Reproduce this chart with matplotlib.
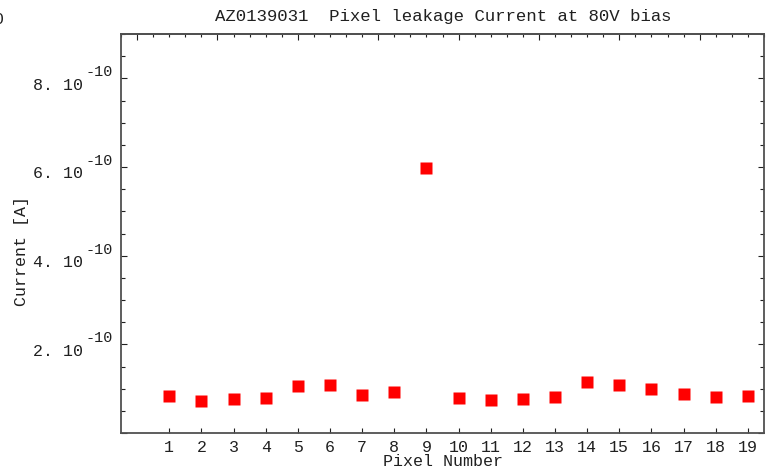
import numpy as np
import matplotlib
matplotlib.use("Agg")
import matplotlib.pyplot as plt
from matplotlib.ticker import MultipleLocator, FixedLocator, NullFormatter
from matplotlib.transforms import offset_copy

plt.rcParams['font.family'] = ['Liberation Mono', 'DejaVu Sans Mono']

# data
pixel = list(range(1, 20))
current = [0.83e-10, 0.72e-10, 0.76e-10, 0.79e-10, 1.06e-10, 1.08e-10, 0.85e-10,
           0.92e-10, 5.98e-10, 0.79e-10, 0.74e-10, 0.76e-10, 0.81e-10, 1.15e-10,
           1.08e-10, 0.99e-10, 0.88e-10, 0.81e-10, 0.83e-10]
ytick_vals = [2e-10, 4e-10, 6e-10, 8e-10]
ytick_mant = ["2.", "4.", "6.", "8."]
title = "AZ0139031  Pixel leakage Current at 80V bias"

fig = plt.figure(figsize=(7.66, 4.68), dpi=100)
ax = fig.add_axes([121/766, 1-433/468, 643/766, 399/468])

ax.plot(pixel, current, 's', color='#ff0000', markersize=8.8, mec='none', zorder=3)

ax.set_xlim(-0.5, 19.5)
ax.set_ylim(0, 9e-10)

frame_col = '#505050'
for s in ax.spines.values():
    s.set_color(frame_col)
    s.set_linewidth(1.3)

# bottom ticks: one per pixel
ax.xaxis.set_major_locator(FixedLocator(pixel))
ax.set_xticklabels([str(p) for p in pixel], fontsize=12)
ax.tick_params(axis='x', which='major', direction='in', length=3.5, width=0.8,
               color='#202020', labelcolor='#202020', pad=5, bottom=True, top=False)

# left / right ticks, labels drawn by hand below
ax.yaxis.set_major_locator(MultipleLocator(2e-10))
ax.yaxis.set_minor_locator(MultipleLocator(0.5e-10))
ax.yaxis.set_major_formatter(NullFormatter())
ax.tick_params(axis='y', which='major', direction='in', length=4.5, width=0.8,
               color='#202020', left=True, right=True)
ax.tick_params(axis='y', which='minor', direction='in', length=3, width=0.8,
               color='#202020', left=True, right=True)

# top axis has its own auto ticks
top = ax.secondary_xaxis('top')
top.xaxis.set_major_locator(MultipleLocator(2.5))
top.xaxis.set_minor_locator(MultipleLocator(0.5))
top.xaxis.set_major_formatter(NullFormatter())
top.tick_params(which='major', direction='in', length=4, width=0.8, color='#202020')
top.tick_params(which='minor', direction='in', length=2.5, width=0.8, color='#202020')
top.spines['top'].set_color(frame_col)
top.spines['top'].set_linewidth(1.3)

# y tick labels like "8. 10^-10"
tr = ax.get_yaxis_transform()
tr_base = offset_copy(tr, fig=fig, x=0, y=-7, units='dots')
tr_exp = offset_copy(tr, fig=fig, x=0, y=6, units='dots')
for v, m in zip(ytick_vals, ytick_mant):
    ax.text(-38/643, v, m + " 10", transform=tr_base, ha='right', va='center',
            fontsize=12, color='#202020')
    ax.text(-35/643, v, "-10", transform=tr_exp, ha='left', va='center',
            fontsize=11, color='#202020')

fig.text(443/766, 1-17/468, title, ha='center', va='center', fontsize=12.5, color='#202020')
fig.text(443/766, 1-462/468, "Pixel Number", ha='center', va='center', fontsize=12,
         color='#202020')
fig.text(22/766, 1-251/468, "Current [A]", ha='center', va='center', rotation=90,
         fontsize=12, color='#202020')
fig.text(-6/766, 1-20/468, "0", ha='left', va='center', fontsize=12, color='#202020')

fig.savefig("out.png", dpi=100)
